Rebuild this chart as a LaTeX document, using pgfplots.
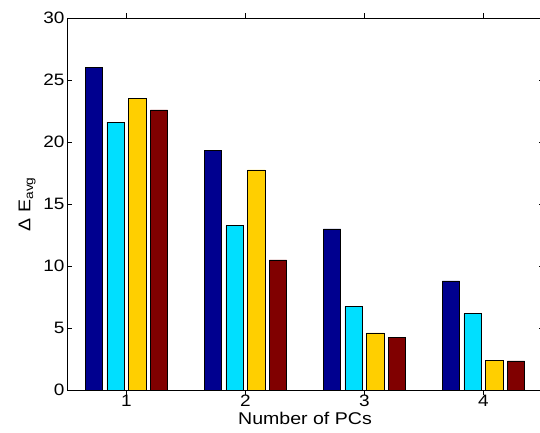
\documentclass[border=0pt]{standalone}
\usepackage{fontspec}
\setmainfont{Liberation Sans}[FakeStretch=1.15]
\usepackage{pgfplots}
\pgfplotsset{compat=1.18}
\definecolor{mnavy}{RGB}{0,0,143}
\definecolor{mcyan}{RGB}{0,223,255}
\definecolor{myellow}{RGB}{255,207,0}
\definecolor{mdred}{RGB}{128,0,0}
\begin{document}
\begin{tikzpicture}[x=1pt,y=1pt]
\clip (0,0) rectangle (540,433);
\begin{axis}[
  at={(67pt,43pt)}, anchor=south west,
  scale only axis,
  width=476pt, height=372pt,
  xmin=0.5, xmax=4.5,
  ymin=0, ymax=30,
  xtick={1,2,3,4},
  ytick={0,5,10,15,20,25,30},
  tick align=inside,
  major tick length=4.5pt,
  axis line style={line width=0.9pt},
  every tick/.style={black, line width=0.6pt},
  /pgf/number format/assume math mode=true,
  tick label style={font=\fontsize{16.5}{18}\selectfont},
  label style={font=\fontsize{17}{19}\selectfont},
  xticklabel style={yshift=3pt},
  yticklabel style={xshift=1pt},
  xlabel={Number of PCs},
  ylabel={Δ E\textsubscript{avg}},
  xlabel style={yshift=1.5pt},
  ylabel style={yshift=1pt},
  ybar, bar width=0.146,
  every axis plot/.append style={draw=black, line width=0.5pt},
]
\addplot[fill=mnavy, bar shift=-0.273] coordinates {(1,26.0) (2,19.3) (3,13.0) (4,8.8)};
\addplot[fill=mcyan, bar shift=-0.091] coordinates {(1,21.6) (2,13.25) (3,6.75) (4,6.15)};
\addplot[fill=myellow, bar shift=0.091] coordinates {(1,23.5) (2,17.75) (3,4.6) (4,2.4)};
\addplot[fill=mdred, bar shift=0.273] coordinates {(1,22.6) (2,10.5) (3,4.25) (4,2.35)};
\end{axis}
\end{tikzpicture}
\end{document}
